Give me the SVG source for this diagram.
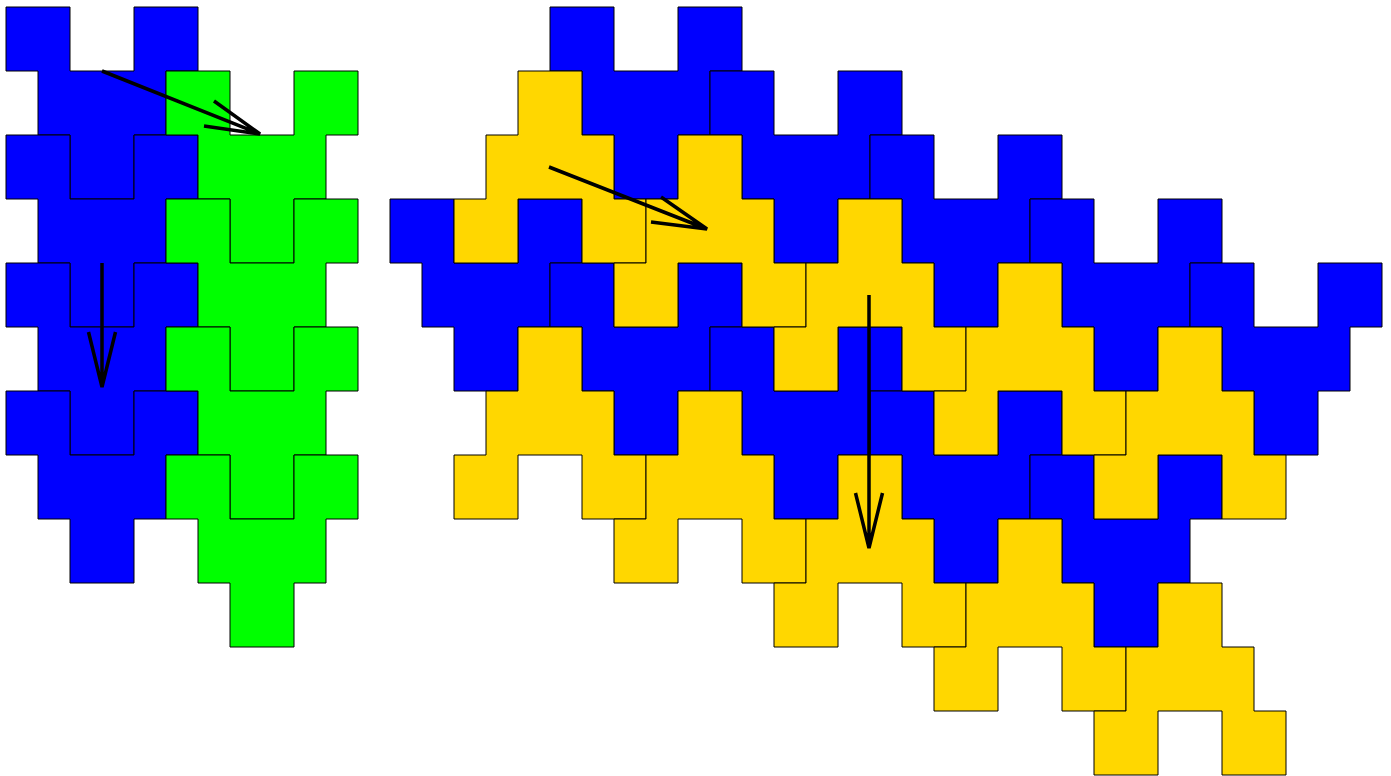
<svg xmlns="http://www.w3.org/2000/svg" xmlns:xlink="http://www.w3.org/1999/xlink" width="1391" height="776" viewBox="0 0 1391 776">
<style>
.b{fill:#0000ff}
.g{fill:#00ff00}
.y{fill:#ffd700}
.tile{stroke:#000;stroke-width:1;stroke-linejoin:miter}
.arrow{fill:none;stroke:#000;stroke-width:3.5;stroke-linecap:butt}
</style>
<defs>
<path id="t" class="tile" d="M0,0 H64 V64 H128 V0 H192 V64 H160 V128 H128 V192 H64 V128 H32 V64 H0 Z"/>
<path id="u" class="tile" d="M64,0 H128 V64 H160 V128 H192 V192 H128 V128 H64 V192 H0 V128 H32 V64 H64 Z"/>
</defs>
<rect width="1391" height="776" fill="#fff"/>
<g id="tiles">
<g id="L1"><use xlink:href="#t" href="#t" class="b" x="6" y="7"/></g>
<g id="L2"><use xlink:href="#t" href="#t" class="b" x="6" y="135"/></g>
<g id="L3"><use xlink:href="#t" href="#t" class="b" x="6" y="263"/></g>
<g id="L4"><use xlink:href="#t" href="#t" class="b" x="6" y="391"/></g>
<g id="G1"><use xlink:href="#t" href="#t" class="g" x="166" y="71"/></g>
<g id="G2"><use xlink:href="#t" href="#t" class="g" x="166" y="199"/></g>
<g id="G3"><use xlink:href="#t" href="#t" class="g" x="166" y="327"/></g>
<g id="G4"><use xlink:href="#t" href="#t" class="g" x="166" y="455"/></g>
<g id="B1"><use xlink:href="#t" href="#t" class="b" x="550" y="7"/></g>
<g id="B2"><use xlink:href="#t" href="#t" class="b" x="710" y="71"/></g>
<g id="B3"><use xlink:href="#t" href="#t" class="b" x="870" y="135"/></g>
<g id="B4"><use xlink:href="#t" href="#t" class="b" x="1030" y="199"/></g>
<g id="B5"><use xlink:href="#t" href="#t" class="b" x="1190" y="263"/></g>
<g id="B6"><use xlink:href="#t" href="#t" class="b" x="390" y="199"/></g>
<g id="B7"><use xlink:href="#t" href="#t" class="b" x="550" y="263"/></g>
<g id="B8"><use xlink:href="#t" href="#t" class="b" x="710" y="327"/></g>
<g id="B9"><use xlink:href="#t" href="#t" class="b" x="870" y="391"/></g>
<g id="B10"><use xlink:href="#t" href="#t" class="b" x="1030" y="455"/></g>
<g id="Y1"><use xlink:href="#u" href="#u" class="y" x="454" y="71"/></g>
<g id="Y2"><use xlink:href="#u" href="#u" class="y" x="614" y="135"/></g>
<g id="Y3"><use xlink:href="#u" href="#u" class="y" x="774" y="199"/></g>
<g id="Y4"><use xlink:href="#u" href="#u" class="y" x="934" y="263"/></g>
<g id="Y5"><use xlink:href="#u" href="#u" class="y" x="1094" y="327"/></g>
<g id="Y6"><use xlink:href="#u" href="#u" class="y" x="454" y="327"/></g>
<g id="Y7"><use xlink:href="#u" href="#u" class="y" x="614" y="391"/></g>
<g id="Y8"><use xlink:href="#u" href="#u" class="y" x="774" y="455"/></g>
<g id="Y9"><use xlink:href="#u" href="#u" class="y" x="934" y="519"/></g>
<g id="Y10"><use xlink:href="#u" href="#u" class="y" x="1094" y="583"/></g>
</g>
<g id="connectors">
<path class="arrow" d="M102,71 L260,134 M214,101 L260,134 L204,126"/>
<path class="arrow" d="M102,263 L102,387 M88.5,332 L102,387 L115.5,332"/>
<path class="arrow" d="M549,167 L707,229 M661,197 L707,229 L651,222"/>
<path class="arrow" d="M869,295 L869,548 M855.5,493 L869,548 L882.5,493"/>
</g>
</svg>
